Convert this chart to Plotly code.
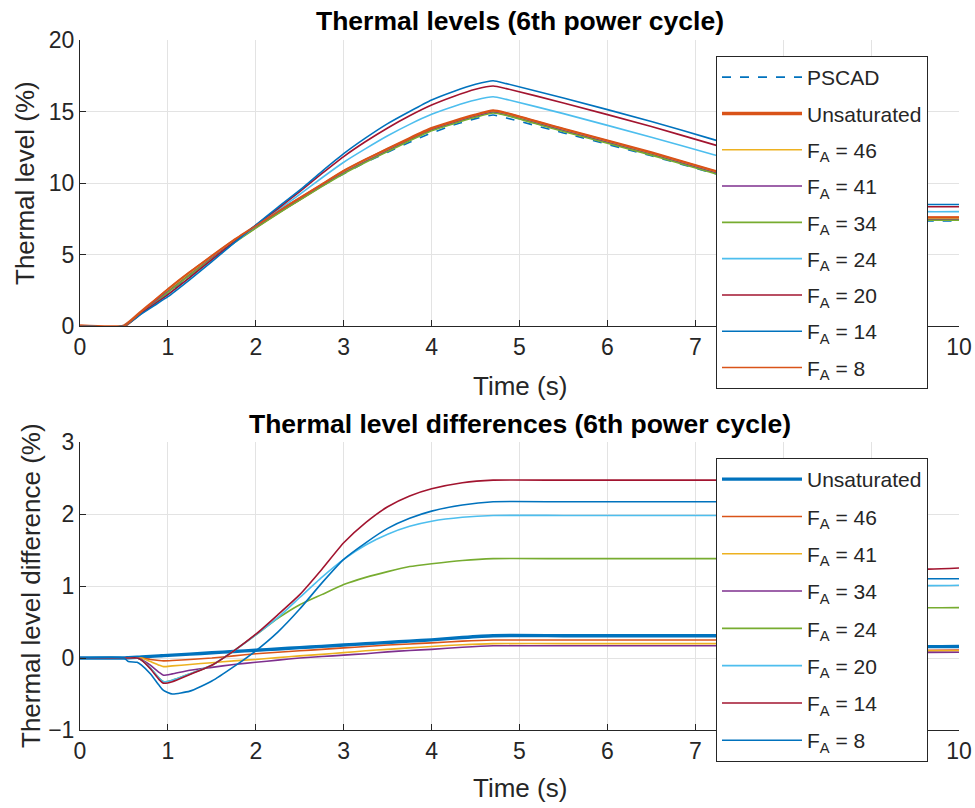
import plotly.graph_objects as go

# ---------------- data ----------------
t_top = [0, 0.5, 0.7, 0.85, 1.0, 1.25, 1.5, 1.75, 2.0, 2.25, 2.5, 2.75, 3.0, 3.25, 3.5,
         3.75, 4.0, 4.25, 4.5, 4.7, 4.85, 5.5, 6.5, 7.2, 8.0, 8.8, 9.3, 9.45, 9.6, 10.0]

top_pscad = [0, 0, 0.95, 1.65, 2.3, 3.5, 4.7, 5.85, 6.9, 7.9, 8.85, 9.8, 10.65, 11.45, 12.15,
             12.85, 13.5, 14.05, 14.5, 14.75, 14.55, 13.5, 11.9, 10.7, 9.4, 8.2, 7.5, 7.4, 7.35, 7.35]
top_unsat = [0, 0, 1.0, 1.75, 2.5, 3.7, 4.85, 5.95, 6.95, 7.95, 8.9, 9.85, 10.8, 11.6, 12.35,
             13.1, 13.8, 14.3, 14.75, 15.03, 14.85, 13.75, 12.1, 10.85, 9.55, 8.35, 7.65, 7.55, 7.55, 7.55]
top_fa46 = [0, 0, 0.95, 1.7, 2.45, 3.65, 4.8, 5.9, 6.9, 7.9, 8.85, 9.8, 10.75, 11.55, 12.3,
            13.05, 13.75, 14.25, 14.7, 14.98, 14.8, 13.7, 12.05, 10.8, 9.5, 8.3, 7.6, 7.5, 7.5, 7.5]
top_fa41 = [0, 0, 0.95, 1.7, 2.4, 3.6, 4.75, 5.85, 6.9, 7.9, 8.85, 9.8, 10.7, 11.5, 12.25,
            13.0, 13.7, 14.2, 14.65, 14.95, 14.75, 13.65, 12.0, 10.75, 9.45, 8.25, 7.55, 7.45, 7.45, 7.45]
top_fa34 = [0, 0, 0.9, 1.6, 2.35, 3.55, 4.7, 5.8, 6.85, 7.85, 8.8, 9.75, 10.65, 11.45, 12.2,
            12.95, 13.65, 14.15, 14.6, 14.9, 14.72, 13.6, 11.95, 10.7, 9.4, 8.2, 7.5, 7.4, 7.4, 7.4]
top_fa24 = [0, 0, 0.9, 1.55, 2.2, 3.4, 4.65, 5.8, 7.0, 8.1, 9.2, 10.35, 11.45, 12.4, 13.3,
            14.1, 14.8, 15.35, 15.8, 16.03, 15.85, 14.85, 13.2, 12.0, 10.7, 9.4, 8.5, 8.1, 8.0, 8.0]
top_fa20 = [0, 0, 0.9, 1.55, 2.2, 3.4, 4.65, 5.85, 7.05, 8.2, 9.4, 10.65, 11.85, 12.9, 13.85,
            14.7, 15.45, 16.05, 16.55, 16.78, 16.6, 15.6, 13.95, 12.7, 11.3, 9.9, 8.9, 8.4, 8.34, 8.34]
top_fa14 = [0, 0, 0.85, 1.45, 2.05, 3.25, 4.5, 5.8, 7.05, 8.3, 9.5, 10.8, 12.05, 13.15, 14.15,
            15.0, 15.8, 16.4, 16.9, 17.15, 16.95, 15.95, 14.3, 13.05, 11.6, 10.1, 9.1, 8.6, 8.5, 8.5]
top_fa8 = [0, 0, 1.0, 1.8, 2.6, 3.8, 4.9, 6.0, 7.0, 8.0, 8.95, 9.9, 10.85, 11.65, 12.4,
           13.1, 13.8, 14.3, 14.75, 15.05, 14.88, 13.78, 12.12, 10.88, 9.55, 8.35, 7.7, 7.6, 7.6, 7.6]

t_bot = [0, 0.5, 0.55, 0.65, 0.7, 0.8, 0.9, 0.95, 1.05, 1.25, 1.5, 1.75, 2.0, 2.25, 2.5,
         2.75, 3.0, 3.25, 3.5, 3.75, 4.0, 4.35, 4.7, 5.5, 6.5, 7.4, 8.5, 9.3, 9.4, 9.5, 10.0]

bot_unsat = [0, 0, 0.004, 0.011, 0.014, 0.022, 0.029, 0.033, 0.04, 0.054, 0.072, 0.09, 0.108, 0.126, 0.144,
             0.162, 0.18, 0.198, 0.216, 0.234, 0.252, 0.285, 0.31, 0.31, 0.31, 0.31, 0.31, 0.22, 0.18, 0.16, 0.16]
bot_fa46 = [0, 0, 0, 0, 0, -0.02, -0.035, -0.04, -0.035, -0.02, 0.0, 0.03, 0.06, 0.08, 0.1,
            0.12, 0.14, 0.16, 0.18, 0.195, 0.21, 0.235, 0.25, 0.25, 0.25, 0.25, 0.25, 0.15, 0.12, 0.11, 0.11]
bot_fa41 = [0, 0, 0, 0, 0, -0.05, -0.1, -0.12, -0.11, -0.09, -0.065, -0.04, -0.02, 0.005, 0.03,
            0.05, 0.075, 0.1, 0.12, 0.14, 0.16, 0.185, 0.2, 0.2, 0.2, 0.2, 0.2, 0.13, 0.11, 0.1, 0.1]
bot_fa34 = [0, 0, 0, 0, -0.02, -0.1, -0.2, -0.24, -0.22, -0.17, -0.13, -0.09, -0.06, -0.03, 0.0,
            0.02, 0.04, 0.06, 0.085, 0.105, 0.12, 0.15, 0.17, 0.17, 0.17, 0.17, 0.17, 0.11, 0.09, 0.08, 0.08]
bot_fa24 = [0, 0, 0, 0, -0.03, -0.14, -0.28, -0.33, -0.31, -0.22, -0.1, 0.1, 0.32, 0.55, 0.74,
            0.88, 1.02, 1.12, 1.2, 1.27, 1.31, 1.355, 1.38, 1.38, 1.38, 1.38, 1.38, 0.85, 0.72, 0.7, 0.7]
bot_fa20 = [0, 0, 0, 0, -0.03, -0.14, -0.28, -0.33, -0.31, -0.22, -0.1, 0.1, 0.32, 0.56, 0.84,
            1.12, 1.37, 1.57, 1.72, 1.83, 1.9, 1.955, 1.98, 1.98, 1.98, 1.98, 1.98, 1.15, 1.05, 1.01, 1.01]
bot_fa14 = [0, 0, 0, 0, -0.03, -0.15, -0.3, -0.35, -0.33, -0.23, -0.1, 0.1, 0.33, 0.6, 0.88,
            1.23, 1.6, 1.88, 2.1, 2.25, 2.35, 2.435, 2.47, 2.47, 2.47, 2.47, 2.47, 1.55, 1.43, 1.25, 1.25]
bot_fa8 = [0, 0, -0.05, -0.06, -0.1, -0.22, -0.38, -0.45, -0.5, -0.46, -0.32, -0.12, 0.1, 0.36, 0.68,
           1.04, 1.37, 1.6, 1.8, 1.94, 2.04, 2.125, 2.17, 2.17, 2.17, 2.17, 2.17, 1.25, 1.1, 1.1, 1.1]

x_ticks = [0, 1, 2, 3, 4, 5, 6, 7, 8, 9, 10]
top_yticks = [0, 5, 10, 15, 20]
bot_yticks = [-1, 0, 1, 2, 3]

# ---------------- styling ----------------
BLUE = "#0072BD"
ORANGE = "#D95319"
YELLOW = "#EDB120"
PURPLE = "#7E2F8E"
GREEN = "#77AC30"
LBLUE = "#4DBEEE"
DRED = "#A2142F"
FONT = "Liberation Sans, Arial, sans-serif"
INK = "#262626"
GRID = "#e3e3e3"
THIN = 1.6
THICK = 3.4
SMOOTH = 0.5

def fa(n):
    return "F<sub>A</sub> = " + str(n)

fig = go.Figure()

top_series = [
    ("PSCAD", top_pscad, BLUE, THIN, "dash"),
    ("Unsaturated", top_unsat, ORANGE, THICK, "solid"),
    (fa(46), top_fa46, YELLOW, THIN, "solid"),
    (fa(41), top_fa41, PURPLE, THIN, "solid"),
    (fa(34), top_fa34, GREEN, THIN, "solid"),
    (fa(24), top_fa24, LBLUE, THIN, "solid"),
    (fa(20), top_fa20, DRED, THIN, "solid"),
    (fa(14), top_fa14, BLUE, THIN, "solid"),
    (fa(8), top_fa8, ORANGE, THIN, "solid"),
]
for i, (name, ys, col, w, dash) in enumerate(top_series):
    fig.add_trace(go.Scatter(x=t_top, y=ys, name=name, mode="lines",
                             line=dict(color=col, width=w, dash=dash,
                                       shape="spline", smoothing=SMOOTH),
                             xaxis="x", yaxis="y", legend="legend",
                             legendgroup="t%d" % i))

bot_series = [
    ("Unsaturated", bot_unsat, BLUE, THICK),
    (fa(46), bot_fa46, ORANGE, THIN),
    (fa(41), bot_fa41, YELLOW, THIN),
    (fa(34), bot_fa34, PURPLE, THIN),
    (fa(24), bot_fa24, GREEN, THIN),
    (fa(20), bot_fa20, LBLUE, THIN),
    (fa(14), bot_fa14, DRED, THIN),
    (fa(8), bot_fa8, BLUE, THIN),
]
for i, (name, ys, col, w) in enumerate(bot_series):
    fig.add_trace(go.Scatter(x=t_bot, y=ys, name=name, mode="lines",
                             line=dict(color=col, width=w,
                                       shape="spline", smoothing=SMOOTH),
                             xaxis="x2", yaxis="y2", legend="legend2",
                             legendgroup="b%d" % i))

W, H = 975, 808
xl, xr = 80, 959
top_t, top_b = 40, 326
bot_t, bot_b = 442, 730

def px_x(p):
    return p / W

def px_y(p):
    return 1 - p / H

axis_common = dict(
    showline=True, linecolor=INK, linewidth=1, mirror=False,
    ticks="inside", ticklen=6, tickcolor=INK, tickwidth=1,
    showgrid=True, gridcolor=GRID, gridwidth=1,
    zeroline=False, automargin=False,
    tickfont=dict(family=FONT, size=23, color=INK),
)

fig.update_layout(
    width=W, height=H,
    margin=dict(l=0, r=0, t=0, b=0),
    paper_bgcolor="white", plot_bgcolor="white",
    showlegend=True,
    xaxis=dict(domain=[px_x(xl), px_x(xr)], range=[0, 10], tickvals=x_ticks,
               anchor="y", **axis_common),
    yaxis=dict(domain=[px_y(top_b), px_y(top_t)], range=[0, 20], tickvals=top_yticks,
               anchor="x", **axis_common),
    xaxis2=dict(domain=[px_x(xl), px_x(xr)], range=[0, 10], tickvals=x_ticks,
                anchor="y2", **axis_common),
    yaxis2=dict(domain=[px_y(bot_b), px_y(bot_t)], range=[-1, 3], tickvals=bot_yticks,
                anchor="x2", **axis_common),
    legend=dict(x=px_x(716), y=px_y(56), xanchor="left", yanchor="top",
                bgcolor="white", bordercolor=INK, borderwidth=1,
                font=dict(family=FONT, size=21, color=INK),
                tracegroupgap=6, itemwidth=80, traceorder="grouped"),
    legend2=dict(x=px_x(716), y=px_y(458), xanchor="left", yanchor="top",
                 bgcolor="white", bordercolor=INK, borderwidth=1,
                 font=dict(family=FONT, size=21, color=INK),
                 tracegroupgap=7, itemwidth=80, traceorder="grouped"),
)

ann = []
def add_text(text, x, y, size, bold=False, angle=0):
    ann.append(dict(text=("<b>%s</b>" % text) if bold else text,
                    x=px_x(x), y=px_y(y), xref="paper", yref="paper",
                    xanchor="center", yanchor="middle", showarrow=False,
                    textangle=angle,
                    font=dict(family=FONT, size=size, color="#000000" if bold else INK)))

add_text("Thermal levels (6th power cycle)", 520, 21, 26.5, bold=True)
add_text("Thermal level differences (6th power cycle)", 520, 424, 26.5, bold=True)
add_text("Time (s)", 520, 386, 26)
add_text("Time (s)", 520, 788, 26)
add_text("Thermal level (%)", 25, 183, 26, angle=-90)
add_text("Thermal level difference (%)", 31, 586, 26, angle=-90)
fig.update_layout(annotations=ann)

fig.write_html("out.html")
